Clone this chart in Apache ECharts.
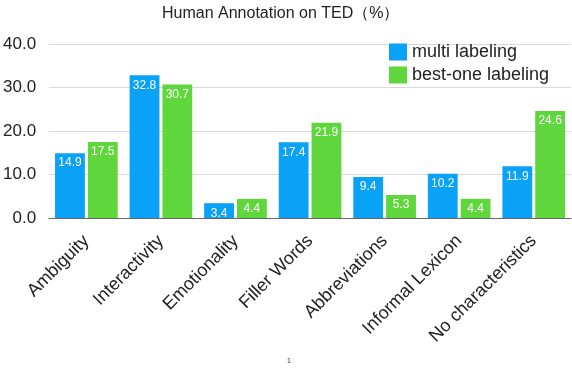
<!DOCTYPE html>
<html>
<head>
<meta charset="utf-8">
<script src="https://cdn.jsdelivr.net/npm/echarts@6/dist/echarts.min.js"></script>
<style>
  html, body { margin: 0; padding: 0; background: #fff; }
  #main { width: 572px; height: 368px; }
</style>
</head>
<body>
<div id="main"></div>
<script>
  // categories and values
  var categories = ['Ambiguity', 'Interactivity', 'Emotionality', 'Filler Words', 'Abbreviations', 'Informal Lexicon', 'No characteristics'];
  var multiLabeling = [14.9, 32.8, 3.4, 17.4, 9.4, 10.2, 11.9];
  var bestOneLabeling = [17.5, 30.7, 4.4, 21.9, 5.3, 4.4, 24.6];
  var yTicks = [0, 10, 20, 30, 40];

  var font = 'Helvetica, Arial, "Liberation Sans", sans-serif';
  var chart = echarts.init(document.getElementById('main'));

  var barLabel = {
    show: true,
    position: 'insideTop',
    distance: 4,
    color: '#fff',
    fontSize: 12,
    fontFamily: font,
    formatter: function (p) { return p.value.toFixed(1); }
  };

  chart.setOption({
    animation: false,
    title: {
      text: 'Human Annotation on TED（%）',
      left: 157,
      top: 1,
      textStyle: { fontSize: 16, fontWeight: 'normal', color: '#222', fontFamily: font }
    },
    legend: {
      orient: 'vertical',
      left: 384,
      top: 38,
      itemWidth: 18,
      itemHeight: 17,
      itemGap: 5,
      icon: 'rect',
      textStyle: { fontSize: 18, color: '#222', fontFamily: font },
      data: ['multi labeling', 'best-one labeling']
    },
    grid: { left: 46, right: 1, top: 44, bottom: 150 },
    xAxis: {
      type: 'category',
      data: categories,
      axisTick: { show: false },
      axisLine: { lineStyle: { color: '#666' } },
      axisLabel: {
        rotate: 45,
        interval: 0,
        margin: 20,
        fontSize: 18,
        color: '#222',
        fontFamily: font
      }
    },
    yAxis: {
      type: 'value',
      min: yTicks[0],
      max: yTicks[yTicks.length - 1],
      interval: 10,
      axisLine: { show: false },
      axisTick: { show: false },
      splitLine: { lineStyle: { color: '#d9d9d9' } },
      axisLabel: {
        fontSize: 17,
        color: '#222',
        fontFamily: font,
        margin: 13,
        formatter: function (v) { return v.toFixed(1); }
      }
    },
    series: [
      {
        name: 'multi labeling',
        type: 'bar',
        data: multiLabeling,
        barGap: '10%',
        barCategoryGap: '16%',
        itemStyle: { color: '#0aa2f7' },
        label: barLabel
      },
      {
        name: 'best-one labeling',
        type: 'bar',
        data: bestOneLabeling,
        itemStyle: { color: '#5fd63b' },
        label: barLabel
      }
    ],
    graphic: [{
      type: 'text',
      left: 287,
      top: 358,
      style: { text: '1', fontSize: 7, fill: '#333', fontFamily: font }
    }]
  });
</script>
</body>
</html>
